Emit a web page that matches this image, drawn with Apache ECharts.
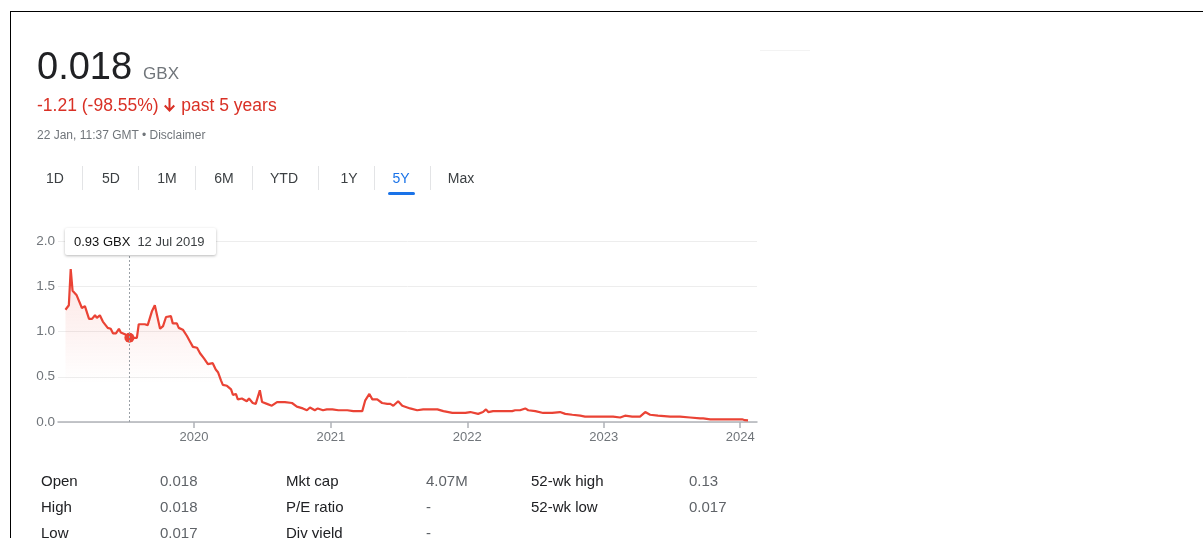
<!DOCTYPE html>
<html>
<head>
<meta charset="utf-8">
<script src="https://cdn.jsdelivr.net/npm/echarts@6/dist/echarts.min.js"></script>
<style>
  html, body { margin:0; padding:0; background:#fff; width:1203px; height:538px; overflow:hidden; font-family:"Liberation Sans", Arial, sans-serif; }
  #chart { position:absolute; left:0; top:0; width:1203px; height:538px; }
  .abs { position:absolute; white-space:nowrap; }
  #frame { position:absolute; left:10px; top:11px; width:1300px; height:600px; border:1.5px solid #000; box-sizing:border-box; }
  .tab { position:absolute; top:168px; height:20px; line-height:20px; font-size:14px; color:#3c4043; transform:translateX(-50%); }
  .sep { position:absolute; top:166px; width:1px; height:24px; background:#e3e4e6; }
  .tl { position:absolute; font-size:15px; line-height:18px; color:#202124; }
  .tv { position:absolute; font-size:15px; line-height:18px; color:#5f6368; }
  #tip { position:absolute; left:65px; top:228px; width:151px; height:27px; background:#fff; box-shadow:0 1px 3px rgba(0,0,0,0.28); border-radius:2px; font-size:13px; line-height:27px; z-index:5; }
</style>
</head>
<body>
<div id="chart"></div>
<div id="frame"></div>
<div class="abs" style="left:760px;top:50px;width:50px;height:1px;background:#f3f3f3;"></div>

<div class="abs" style="left:37px;top:47px;line-height:38px;">
  <span style="font-size:38px;color:#202124;">0.018</span><span style="font-size:17px;color:#70757a;margin-left:11px;">GBX</span>
</div>
<div class="abs" style="left:37px;top:95px;font-size:17.5px;line-height:20px;color:#d93025;">-1.21 (-98.55%) <svg width="13" height="14" viewBox="0 0 12 14" style="vertical-align:-1px"><path d="M6 14 L0.5 8.2 L2 6.8 L5 10 L5 0 L7 0 L7 10 L10 6.8 L11.5 8.2 Z" fill="#d93025"/></svg> past 5 years</div>
<div class="abs" style="left:37px;top:128px;font-size:12px;line-height:14px;color:#70757a;">22 Jan, 11:37 GMT • Disclaimer</div>

<div id="tabs"></div>
<div class="abs" style="left:388px;top:192px;width:27px;height:3px;border-radius:2px;background:#1a73e8;"></div>

<div id="tip"></div>
<div id="table"></div>

<script>
// ---- data ----
const dates = [
 '2019-01-22','2019-01-31','2019-02-05','2019-02-10','2019-02-21','2019-03-07','2019-03-15','2019-03-26',
 '2019-04-03','2019-04-11','2019-04-16','2019-04-24','2019-05-02','2019-05-15','2019-05-23','2019-05-29',
 '2019-06-06','2019-06-14','2019-06-19','2019-06-30','2019-07-12','2019-07-16','2019-07-21','2019-08-01',
 '2019-08-06','2019-08-22','2019-08-30','2019-09-10','2019-09-18','2019-10-02','2019-10-10','2019-10-18',
 '2019-10-23','2019-10-31','2019-11-05','2019-11-16','2019-11-21','2019-12-02','2019-12-13','2019-12-21',
 '2019-12-29','2020-01-09','2020-01-17','2020-01-28','2020-02-07','2020-02-20','2020-02-28','2020-03-05',
 '2020-03-13','2020-03-18','2020-03-29','2020-04-09','2020-04-14','2020-04-22','2020-04-27','2020-05-08',
 '2020-05-21','2020-05-27','2020-06-06','2020-06-14','2020-06-25','2020-07-01','2020-07-14','2020-07-27',
 '2020-08-10','2020-08-31','2020-09-19','2020-10-02','2020-10-18','2020-10-29','2020-11-06','2020-11-19',
 '2020-11-27','2020-12-11','2020-12-21','2021-01-05','2021-01-21','2021-01-26','2021-02-14','2021-03-02',
 '2021-03-26','2021-04-03','2021-04-14','2021-04-22','2021-05-05','2021-05-18','2021-06-01','2021-06-09',
 '2021-06-17','2021-06-30','2021-07-11','2021-08-01','2021-08-20','2021-09-05','2021-09-24','2021-10-13',
 '2021-10-15','2021-10-29','2021-11-22','2021-12-13','2021-12-27','2022-01-09','2022-01-30','2022-02-12',
 '2022-02-20','2022-02-26','2022-03-11','2022-03-25','2022-04-12','2022-05-01','2022-05-09','2022-05-22',
 '2022-06-05','2022-06-13','2022-07-02','2022-07-23','2022-08-16','2022-09-06','2022-09-20','2022-10-09',
 '2022-10-30','2022-11-12','2022-12-17','2023-01-18','2023-01-26','2023-02-14','2023-02-27','2023-03-18',
 '2023-04-08','2023-04-22','2023-05-05','2023-05-26','2023-06-28','2023-07-24','2023-08-20','2023-09-16',
 '2023-09-24','2023-10-13','2023-11-27','2024-01-06','2024-01-14','2024-01-22'
];
const prices = [
 1.24,1.29,1.69,1.45,1.40,1.26,1.28,1.14,
 1.14,1.18,1.15,1.18,1.11,1.04,1.03,0.98,
 0.98,1.03,0.99,0.97,0.93,0.96,0.93,0.93,
 1.08,1.08,1.07,1.22,1.29,1.03,1.06,1.16,
 1.14,1.17,1.09,1.09,1.04,1.02,0.95,0.89,
 0.83,0.82,0.76,0.70,0.64,0.65,0.58,0.55,
 0.46,0.41,0.40,0.36,0.30,0.31,0.25,0.26,
 0.23,0.26,0.21,0.20,0.35,0.22,0.20,0.18,
 0.22,0.22,0.21,0.17,0.15,0.13,0.16,0.13,
 0.15,0.13,0.14,0.14,0.13,0.14,0.13,0.12,
 0.12,0.24,0.31,0.25,0.25,0.21,0.20,0.20,
 0.18,0.23,0.18,0.15,0.13,0.14,0.14,0.14,
 0.15,0.12,0.10,0.10,0.10,0.11,0.09,0.11,
 0.14,0.11,0.12,0.12,0.12,0.12,0.13,0.13,
 0.15,0.13,0.12,0.10,0.10,0.11,0.09,0.08,
 0.07,0.06,0.06,0.06,0.06,0.05,0.07,0.06,
 0.06,0.11,0.08,0.07,0.06,0.06,0.05,0.04,
 0.04,0.03,0.03,0.03,0.02,0.018
];
const yTicks = [0, 0.5, 1.0, 1.5, 2.0];
const xTickYears = ['2020','2021','2022','2023','2024'];
const xRange = ['2019-01-02','2024-02-15'];
const hoverDate = '2019-07-12';
const hoverValue = 0.93;
const hoverLabel = '12 Jul 2019';
const unit = 'GBX';
const tabs = ['1D','5D','1M','6M','YTD','1Y','5Y','Max'];
const tableLabels = [['Open','High','Low'],['Mkt cap','P/E ratio','Div yield'],['52-wk high','52-wk low','']];
const tableValues = [['0.018','0.018','0.017'],['4.07M','-','-'],['0.13','0.017','']];

// ---- HTML pieces ----
const tabX = [55,111,167,224,284,349,401,461];
const sepX = [82,138,195,252,318,374,430];
let th = '';
tabs.forEach((t,i)=>{ th += `<div class="tab" style="left:${tabX[i]}px;${t==='5Y'?'color:#1a73e8;':''}">${t}</div>`; });
sepX.forEach(x=>{ th += `<div class="sep" style="left:${x}px"></div>`; });
document.getElementById('tabs').innerHTML = th;

document.getElementById('tip').innerHTML =
  `<span style="margin-left:9px;color:#111;">${hoverValue.toFixed(2)} ${unit}</span><span style="margin-left:7px;color:#3c4043;">${hoverLabel}</span>`;

const colLX = [41,286,531], colVX = [160,426,689], rowY = [472,498,524];
let tb = '';
for (let c=0;c<3;c++) for (let r=0;r<3;r++) {
  if (tableLabels[c][r]) tb += `<div class="tl" style="left:${colLX[c]}px;top:${rowY[r]}px">${tableLabels[c][r]}</div>`;
  if (tableValues[c][r]) tb += `<div class="tv" style="left:${colVX[c]}px;top:${rowY[r]}px">${tableValues[c][r]}</div>`;
}
document.getElementById('table').innerHTML = tb;

// ---- chart ----
const ts = (d) => Date.UTC(+d.slice(0,4), +d.slice(5,7)-1, +d.slice(8,10));
const yearTs = xTickYears.map(y => Date.UTC(+y, 0, 1));
const chart = echarts.init(document.getElementById('chart'), null, {renderer:'canvas'});
const lineData = dates.map((d,i)=>[ts(d), prices[i]]);
chart.setOption({
  animation:false,
  grid:{ left:58, right:446, top:241, bottom:116, containLabel:false },
  xAxis:{
    type:'value', min:ts(xRange[0]), max:ts(xRange[1]), scale:true,
    axisLine:{ show:true, lineStyle:{ color:'#b0b3b8', width:1.5 } },
    axisTick:{ show:true, length:6, lineStyle:{ color:'#b0b3b8', width:1.5 }, customValues: yearTs },
    axisLabel:{ color:'#70757a', fontSize:13, fontFamily:'Liberation Sans, Arial', margin:9,
      customValues: yearTs,
      formatter:(v)=> String(new Date(v).getUTCFullYear()) },
    splitLine:{ show:false }
  },
  yAxis:{
    type:'value', min:yTicks[0], max:yTicks[yTicks.length-1], interval:0.5,
    axisLine:{ show:false }, axisTick:{ show:false },
    axisLabel:{ color:'#70757a', fontSize:13.5, fontFamily:'Liberation Sans, Arial', margin:3, formatter:(v)=> v.toFixed(1) },
    splitLine:{ show:true, lineStyle:{ color:'#ededed', width:1 } }
  },
  series:[
    {
      type:'line', data:lineData, symbol:'none', smooth:false,
      lineStyle:{ color:'#ea4335', width:2.2 },
      areaStyle:{ color: new echarts.graphic.LinearGradient(0,0,0,1,[
        {offset:0, color:'rgba(234,67,53,0.2)'},
        {offset:0.75, color:'rgba(234,67,53,0.0)'}
      ])},
      markLine:{
        silent:true, symbol:'none', label:{show:false},
        lineStyle:{ color:'#9aa0a6', type:[2,2], width:1 },
        data:[{ xAxis: ts(hoverDate) }]
      },
      z:2
    },
    {
      type:'scatter', data:[[ts(hoverDate), hoverValue]], symbol:'circle', symbolSize:10,
      itemStyle:{ color:'#ea4335', opacity:1 }, z:3
    }
  ]
});
</script>
</body>
</html>
